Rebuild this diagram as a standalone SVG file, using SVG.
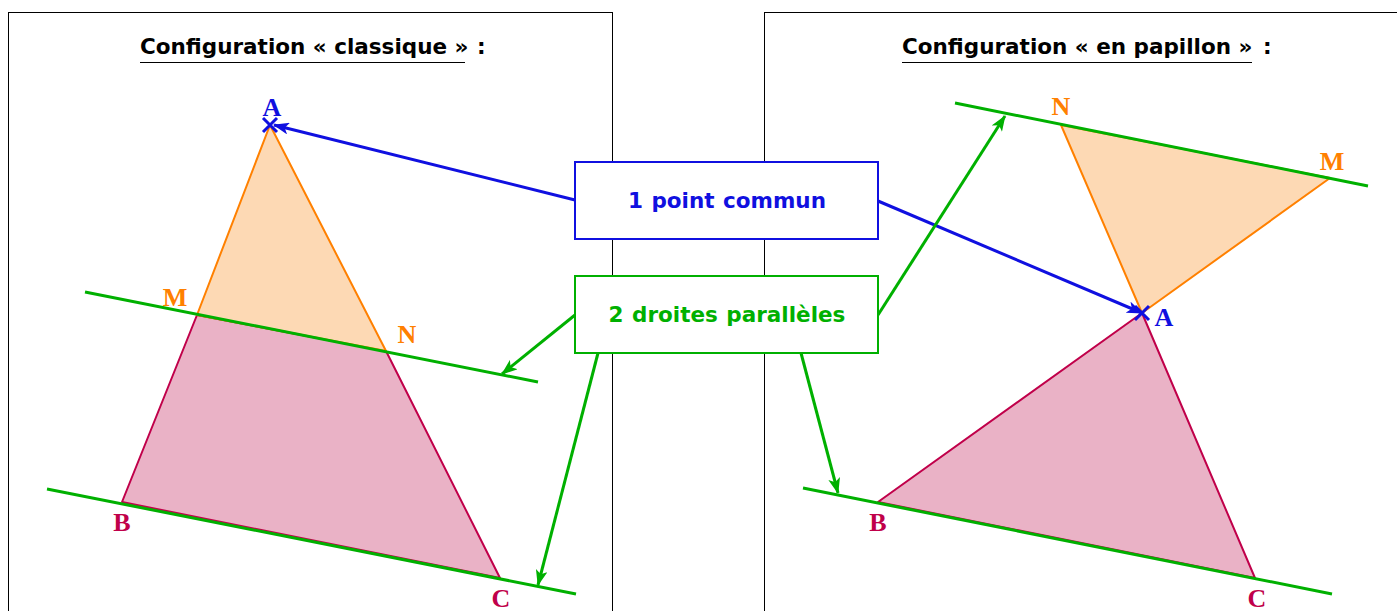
<svg xmlns="http://www.w3.org/2000/svg" width="1397" height="611" viewBox="0 0 1397 611">
<defs>
<style>
.frame{fill:none;stroke:#000;stroke-width:1}
.title{font-family:"DejaVu Sans",sans-serif;font-weight:bold;font-size:21.5px;fill:#000}
.ul{stroke:#000;stroke-width:1.2}
.par{stroke:#00B000;stroke-width:3;fill:none}
.tri{fill:#FDD9B4;stroke:#FF8000;stroke-width:2;stroke-linejoin:round}
.trap{fill:#EAB2C6;stroke:#C0004A;stroke-width:2;stroke-linejoin:round}
.lbl{font-family:"Liberation Serif",serif;font-weight:bold;font-size:26px;text-anchor:middle}
.lo{fill:#FF8000}.lb{fill:#1010E0}.lr{fill:#C0004A}
.box{fill:#fff;stroke-width:2}
.btxt{font-family:"DejaVu Sans",sans-serif;font-weight:bold;font-size:21.5px;text-anchor:middle;word-spacing:1px}
.ab{stroke:#1010E0;stroke-width:3;fill:none}
.ag{stroke:#00B000;stroke-width:3;fill:none}
</style>
<marker id="mb" viewBox="0 0 16 12" refX="15" refY="6" markerWidth="16" markerHeight="12" markerUnits="userSpaceOnUse" orient="auto"><path d="M0,0 L16,6 L0,12 L4,6 Z" fill="#1010E0"/></marker>
<marker id="mg" viewBox="0 0 16 12" refX="15" refY="6" markerWidth="16" markerHeight="12" markerUnits="userSpaceOnUse" orient="auto"><path d="M0,0 L16,6 L0,12 L4,6 Z" fill="#00B000"/></marker>
</defs>
<rect x="0" y="0" width="1397" height="611" fill="#fff"/>
<g id="frames">
<rect class="frame" x="8.5" y="12.5" width="604" height="700"/>
<rect class="frame" x="764.5" y="12.5" width="700" height="700"/>
</g>
<g id="title-left">
<text class="title" x="140" y="54">Configuration « classique »</text>
<text class="title" x="477" y="54">:</text>
<line class="ul" x1="140" y1="62.5" x2="465" y2="62.5"/>
</g>
<g id="title-right">
<text class="title" x="902" y="54">Configuration « en papillon »</text>
<text class="title" x="1263" y="54">:</text>
<line class="ul" x1="902" y1="62.5" x2="1252" y2="62.5"/>
</g>
<g id="left-figure">
<polygon class="trap" points="197,315 386,351 500,578 122,502"/>
<polygon class="tri" points="270,125 197,315 386,351"/>
<line class="par" x1="85" y1="292" x2="538" y2="382"/>
<line class="par" x1="47" y1="489" x2="576" y2="594"/>
<path d="M263,118 L277,132 M277,118 L263,132" stroke="#1010E0" stroke-width="3"/>
<text class="lbl lb" x="272" y="116">A</text>
<text class="lbl lo" x="175" y="306">M</text>
<text class="lbl lo" x="407" y="343">N</text>
<text class="lbl lr" x="122" y="531">B</text>
<text class="lbl lr" x="501" y="607">C</text>
</g>
<g id="right-figure">
<polygon class="trap" points="1142,313 878,502 1255,578"/>
<polygon class="tri" points="1142,313 1061,125 1330,178"/>
<line class="par" x1="955" y1="103" x2="1368" y2="186"/>
<line class="par" x1="803" y1="488" x2="1332" y2="594"/>
<path d="M1135,306 L1149,320 M1149,306 L1135,320" stroke="#1010E0" stroke-width="3"/>
<text class="lbl lb" x="1164" y="326">A</text>
<text class="lbl lo" x="1061" y="115">N</text>
<text class="lbl lo" x="1332" y="170">M</text>
<text class="lbl lr" x="878" y="531">B</text>
<text class="lbl lr" x="1257" y="607">C</text>
</g>
<g id="connectors">
<line class="ab" x1="575" y1="200" x2="274" y2="125" marker-end="url(#mb)"/>
<line class="ab" x1="878" y1="201" x2="1142" y2="313" marker-end="url(#mb)"/>
<line class="ag" x1="575" y1="315" x2="502" y2="374" marker-end="url(#mg)"/>
<line class="ag" x1="598" y1="353" x2="538" y2="585" marker-end="url(#mg)"/>
<line class="ag" x1="878" y1="315" x2="1005" y2="116" marker-end="url(#mg)"/>
<line class="ag" x1="801" y1="353" x2="838" y2="493" marker-end="url(#mg)"/>
</g>
<g id="box-point">
<rect class="box" x="575" y="162" width="303" height="77" stroke="#1010E0"/>
<text class="btxt" x="727" y="208" fill="#1010E0">1 point commun</text>
</g>
<g id="box-droites">
<rect class="box" x="575" y="276" width="303" height="77" stroke="#00B000"/>
<text class="btxt" x="727" y="322" fill="#00B000">2 droites parallèles</text>
</g>
</svg>
